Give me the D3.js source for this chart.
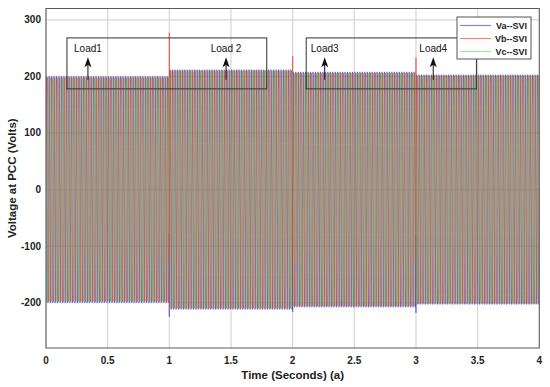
<!DOCTYPE html>
<html>
<head>
<meta charset="utf-8">
<script src="https://cdn.jsdelivr.net/npm/d3@7"></script>
<style>
  body { margin: 0; background: #fff; }
  svg { font-family: Arial, "Liberation Sans", sans-serif; }
</style>
</head>
<body>
<div id="chart"></div>
<script>
// envelope of the PCC voltage, one amplitude per load step (Volts)
var segStart = [0, 1, 2, 3];
var segEnd = [1, 2, 3, 4];
var segAmp = [200, 212, 208, 203];

var seriesNames = ["Va--SVI", "Vb--SVI", "Vc--SVI"];
var seriesPhase = [0, -120, 120];   // degrees
var seriesColor = ["#3030ff", "#ff2a2a", "#4ee04e"];
var seriesAlpha = [0.8, 0.8, 0.6];
var freq = 50;                      // Hz

// switching transients
var spikeT = [1, 2, 3];
var spikeVb = [277, 236, 233];
var spikeVa = [-225, -216, -218];

var xTicks = [0, 0.5, 1, 1.5, 2, 2.5, 3, 3.5, 4];
var yTicks = [-200, -100, 0, 100, 200, 300];

// annotations
var loadNames = ["Load1", "Load 2", "Load3", "Load4"];
var loadT = [0.34, 1.46, 2.26, 3.14];
var boxT0 = [0.17, 2.11];
var boxT1 = [1.79, 3.49];

var W = 550, H = 387;
var margin = {top: 8.5, right: 10.7, bottom: 39, left: 46};
var w = W - margin.left - margin.right,
    h = H - margin.top - margin.bottom;

var svg = d3.select("#chart").append("svg")
    .attr("width", W).attr("height", H);

var x = d3.scaleLinear().domain([0, 4]).range([0, w]);
var y = d3.scaleLinear().domain([-280, 320]).range([h, 0]);

var g = svg.append("g")
    .attr("transform", "translate(" + margin.left + "," + margin.top + ")");

g.append("defs").append("clipPath").attr("id", "clip")
  .append("rect").attr("width", w).attr("height", h);

// grid
g.selectAll(".vgrid").data(xTicks).enter().append("line")
    .attr("x1", function (d) { return x(d); }).attr("x2", function (d) { return x(d); })
    .attr("y1", 0).attr("y2", h)
    .attr("stroke", "#d6d6d6").attr("stroke-width", 1.2);
g.selectAll(".hgrid").data(yTicks).enter().append("line")
    .attr("x1", 0).attr("x2", w)
    .attr("y1", function (d) { return y(d); }).attr("y2", function (d) { return y(d); })
    .attr("stroke", "#d6d6d6").attr("stroke-width", 1.2);

function amplitude(t) {
    for (var i = 0; i < segStart.length; i++) {
        if (t >= segStart[i] && t < segEnd[i]) return segAmp[i];
    }
    return segAmp[segAmp.length - 1];
}

// build the sampled waveform of one phase
function wave(k) {
    var pts = [];
    var n = 200 * 16;
    for (var j = 0; j <= n; j++) {
        var t = 4 * j / n;
        var v = amplitude(t) * Math.sin(2 * Math.PI * freq * t + seriesPhase[k] * Math.PI / 180);
        pts.push([t, v]);
        spikeT.forEach(function (s, si) {
            if (t < s && t + 4 / n >= s) {
                if (k === 1) pts.push([s, spikeVb[si]]);
                if (k === 0) pts.push([s, spikeVa[si]]);
            }
        });
    }
    return pts;
}

var line = d3.line()
    .x(function (d) { return x(d[0]); })
    .y(function (d) { return y(d[1]); });

var waves = g.append("g").attr("clip-path", "url(#clip)");
seriesNames.forEach(function (name, k) {
    waves.append("path")
        .datum(wave(k))
        .attr("fill", "none")
        .attr("stroke", seriesColor[k])
        .attr("stroke-width", 0.7)
        .attr("opacity", seriesAlpha[k])
        .attr("d", line);
});

// axes box
g.append("rect").attr("width", w).attr("height", h)
    .attr("fill", "none").attr("stroke", "#5a5a5a").attr("stroke-width", 1);

g.selectAll(".xt").data(xTicks).enter().append("text")
    .attr("x", function (d) { return x(d); })
    .attr("y", h + 15.5)
    .attr("text-anchor", "middle")
    .attr("font-size", "10px").attr("font-weight", "bold").attr("fill", "#222")
    .text(function (d) { return d; });

g.selectAll(".yt").data(yTicks).enter().append("text")
    .attr("x", -5)
    .attr("y", function (d) { return y(d) + 3.5; })
    .attr("text-anchor", "end")
    .attr("font-size", "10px").attr("font-weight", "bold").attr("fill", "#222")
    .text(function (d) { return d; });

svg.append("text")
    .attr("x", margin.left + w / 2)
    .attr("y", 379)
    .attr("text-anchor", "middle")
    .attr("font-size", "11.5px").attr("font-weight", "bold").attr("fill", "#222")
    .text("Time (Seconds) (a)");

svg.append("text")
    .attr("transform", "translate(16," + (margin.top + y(20)) + ") rotate(-90)")
    .attr("text-anchor", "middle")
    .attr("font-size", "11.5px").attr("font-weight", "bold").attr("fill", "#222")
    .text("Voltage at PCC (Volts)");

// load step annotations
boxT0.forEach(function (t0, i) {
    g.append("rect")
        .attr("x", x(t0)).attr("y", y(268))
        .attr("width", x(boxT1[i]) - x(t0))
        .attr("height", y(178) - y(268))
        .attr("fill", "none").attr("stroke", "#333").attr("stroke-width", 1);
});

loadNames.forEach(function (name, i) {
    var ax = x(loadT[i]);
    g.append("text")
        .attr("x", ax).attr("y", y(243))
        .attr("text-anchor", "middle")
        .attr("font-size", "10px").attr("fill", "#111")
        .text(name);
    g.append("line")
        .attr("x1", ax).attr("x2", ax)
        .attr("y1", y(228)).attr("y2", y(194))
        .attr("stroke", "#111").attr("stroke-width", 1);
    var tip = y(234);
    g.append("path")
        .attr("d", "M" + ax + "," + tip + "L" + (ax + 3.5) + "," + (tip + 10) +
            "L" + ax + "," + (tip + 7.5) + "L" + (ax - 3.5) + "," + (tip + 10) + "Z")
        .attr("fill", "#111");
});

// legend
var lg = svg.append("g").attr("transform", "translate(457,17)");
lg.append("rect").attr("width", 74).attr("height", 42)
    .attr("fill", "#fff").attr("stroke", "#555").attr("stroke-width", 1);
seriesNames.forEach(function (name, k) {
    var ly = 8.5 + k * 13;
    lg.append("line").attr("x1", 3).attr("x2", 34).attr("y1", ly).attr("y2", ly)
        .attr("stroke", seriesColor[k]).attr("stroke-width", 1.2).attr("opacity", 0.6);
    lg.append("text").attr("x", 70).attr("y", ly + 3.2)
        .attr("text-anchor", "end")
        .attr("font-size", "9px").attr("font-weight", "bold").attr("fill", "#222")
        .text(name);
});
</script>
</body>
</html>
